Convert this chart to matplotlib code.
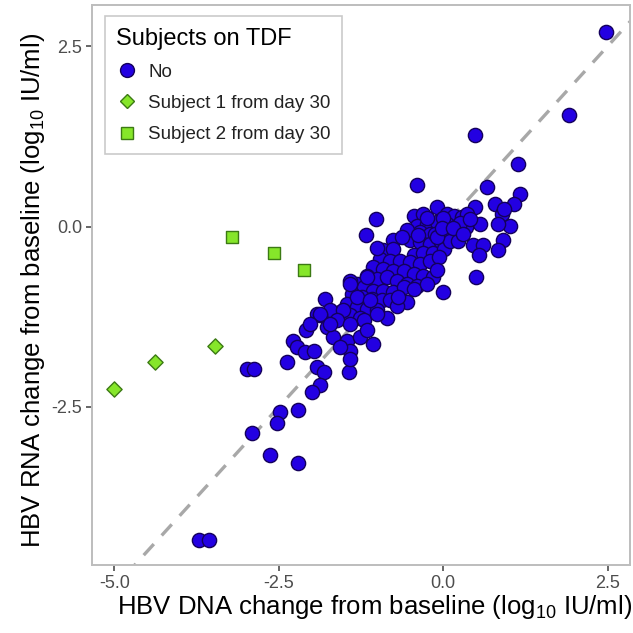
import matplotlib
matplotlib.use("Agg")
import matplotlib.pyplot as plt
from matplotlib.lines import Line2D

plt.rcParams['font.family'] = ['Liberation Sans', 'DejaVu Sans']
plt.rcParams['mathtext.default'] = 'regular'

# subjects not on TDF (log10 change DNA, log10 change RNA)
no_x = [2.48, 1.91, 0.49, 1.14, -0.40, 0.67, 1.16, -1.02, -1.18, 0.79, 1.07, 0.89,
        1.02, 0.84, 0.49, 0.56, 0.46, 0.61, 0.54, 0.91, 0.84, 0.50, 0.00, -1.80,
        -1.92, 0.92,
        -0.45, -0.30, -0.09, 0.06, 0.16, 0.29, 0.36, -0.40, -0.25, -0.09, 0.06, 0.21,
        0.34, -0.35, -0.20, -0.04, 0.11, 0.26, -0.50, -0.35, -0.20, -0.04, -0.76,
        -0.91, -0.76, -0.45, -0.30, -0.15, 0.01, -0.96, -0.81, -0.65, -0.50,
        -0.35, -0.20, -0.07, -1.06, -0.91, -0.76, -0.60, -0.45, -0.30, -0.15, -1.16,
        -1.01, -0.86, -0.70, -0.55, -0.40, -1.31, -1.41, -1.21, -1.06, -0.91, -0.76,
        -0.60, -0.45, -1.39, -1.24, -1.09, -0.93, -0.81, -1.47, -1.31, -1.16, -1.01,
        -1.57, -1.72, -1.87, -1.42, -1.26, -0.86, -0.12, 0.20, -0.55,
        -0.25, 0.00, 0.25, 0.40, 0.10, 0.22, -0.10, -0.62, -0.10, -0.25, -0.55, -0.70,
        -0.02, 0.15, -0.38, -1.00, -0.68, 0.30,
        -1.42, -1.16, -1.31, -1.11, -1.52, -1.62, -1.42, -1.21, -1.77, -1.67, -1.47,
        -1.26, -1.06, -1.42, -1.57, -1.16, -1.01,
        -2.09, -2.28, -2.23, -2.10, -1.97, -1.92, -1.82, -1.87, -2.00, -2.38, -2.99,
        -2.88, -2.48, -2.53, -2.21, -2.90, -2.63, -2.21, -3.71, -3.56, -1.44, -1.42,
        -1.87, -2.02, -1.72]
no_y = [2.70, 1.54, 1.27, 0.87, 0.57, 0.55, 0.45, 0.11, -0.11, 0.31, 0.31, 0.18,
        0.01, 0.04, 0.27, 0.04, -0.26, -0.26, -0.40, -0.19, -0.33, -0.70, -0.90, -1.00,
        -1.21, 0.24,
        0.15, 0.18, 0.27, 0.18, 0.15, 0.13, 0.18, 0.01, 0.04, 0.06, 0.04, 0.01,
        -0.01, -0.08, -0.10, -0.08, -0.10, -0.08, -0.19, -0.22, -0.24, -0.22, -0.19,
        -0.33, -0.31, -0.40, -0.36, -0.36, -0.31, -0.45, -0.47, -0.47, -0.49,
        -0.52, -0.47, -0.42, -0.56, -0.59, -0.61, -0.61, -0.66, -0.68, -0.70, -0.68,
        -0.72, -0.70, -0.75, -0.79, -0.82, -0.79, -0.75, -0.84, -0.89, -0.89, -0.91,
        -0.84, -0.86, -0.93, -0.98, -1.00, -1.02, -1.02, -1.07, -1.12, -1.14, -1.16,
        -1.19, -1.16, -1.23, -1.23, -1.26, -1.26, -0.10, 0.00, -0.05,
        0.12, 0.12, 0.05, 0.10, -0.20, -0.20, -0.15, -0.15, -0.60, -0.80, -1.05, -1.10,
        -0.02, -0.02, -0.12, -0.30, -0.98, -0.10,
        -0.79, -0.70, -0.98, -1.02, -1.16, -1.30, -1.35, -1.30, -1.39, -1.53, -1.58,
        -1.53, -1.63, -1.72, -1.67, -1.44, -1.21,
        -1.44, -1.58, -1.67, -1.74, -1.72, -1.95, -2.02, -2.20, -2.29, -1.88, -1.98,
        -1.98, -2.57, -2.72, -2.54, -2.86, -3.17, -3.27, -4.35, -4.35, -2.02, -1.83,
        -1.21, -1.35, -1.35]

# subject 1 and subject 2 from day 30
s1_x = [-5.00, -4.38, -3.47]
s1_y = [-2.25, -1.88, -1.65]
s2_x = [-3.21, -2.57, -2.12]
s2_y = [-0.15, -0.37, -0.60]

blue = '#2300E2'
blue_edge = '#14005C'
green = '#86E62A'
green_edge = '#3C7A14'
frame = '#BDBDBD'

fig = plt.figure(figsize=(6.33, 6.33), dpi=100)
ax = fig.add_axes([0.1453, 0.1074, 0.8500, 0.8846])

ax.plot([-6, 3], [-6, 3], color='#A8A8A8', lw=2.4, ls=(0, (4.5, 3.5)), zorder=1)

ax.scatter(no_x, no_y, s=105, c=blue, edgecolors=blue_edge, linewidths=1.0, zorder=3)
ax.scatter(s1_x, s1_y, s=60, marker='D', c=green, edgecolors=green_edge, linewidths=1.0, zorder=3)
ax.scatter(s2_x, s2_y, s=65, marker='s', c=green, edgecolors=green_edge, linewidths=1.0, zorder=3)

ax.set_xlim(-5.34, 2.84)
ax.set_ylim(-4.69, 3.07)
ax.set_xticks([-5.0, -2.5, 0.0, 2.5])
ax.set_yticks([-2.5, 0.0, 2.5])
ax.set_xticklabels(['-5.0', '-2.5', '0.0', '2.5'])
ax.set_yticklabels(['-2.5', '0.0', '2.5'])
ax.tick_params(direction='out', length=4, width=1.2, color='#4D4D4D',
               labelcolor='#4D4D4D', labelsize=13, pad=3)
for sp in ax.spines.values():
    sp.set_color(frame)
    sp.set_linewidth(1.4)

ax.set_xlabel('HBV DNA change from baseline (log$_{10}$ IU/ml)', fontsize=18.5, labelpad=1)
ax.xaxis.label.set_x(0.525)
ax.set_ylabel('HBV RNA change from baseline (log$_{10}$ IU/ml)', fontsize=18.5, labelpad=3)
ax.yaxis.label.set_y(0.49)

handles = [
    Line2D([], [], ls='none', marker='o', ms=10, mfc=blue, mec=blue_edge, mew=1.0, label='No'),
    Line2D([], [], ls='none', marker='D', ms=7.5, mfc=green, mec=green_edge, mew=1.0,
           label='Subject 1 from day 30'),
    Line2D([], [], ls='none', marker='s', ms=8, mfc=green, mec=green_edge, mew=1.0,
           label='Subject 2 from day 30'),
]
leg = ax.legend(handles=handles, title='Subjects on TDF', loc='upper left',
                bbox_to_anchor=(0.024, 0.98), fontsize=13.5, title_fontsize=17,
                frameon=True, fancybox=False, handletextpad=0.5, handlelength=1.2,
                borderpad=0.6, labelspacing=0.75, borderaxespad=0)
leg._legend_box.align = 'left'
leg.get_frame().set_edgecolor(frame)
leg.get_frame().set_linewidth(1.2)
for t in leg.get_texts():
    t.set_color('#222222')

fig.savefig('out.png', dpi=100)
